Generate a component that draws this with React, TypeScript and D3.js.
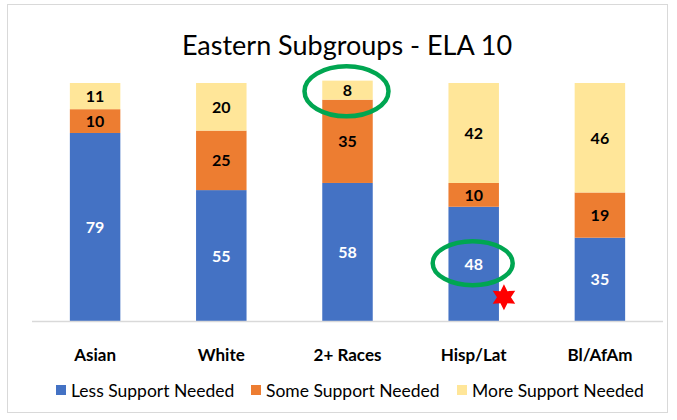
import { useEffect, useRef } from "react";
import * as d3 from "d3";

const categories = ["Asian", "White", "2+ Races", "Hisp/Lat", "Bl/AfAm"];
const seriesNames = ["Less Support Needed", "Some Support Needed", "More Support Needed"];
const lessSupport = [79, 55, 58, 48, 35];
const someSupport = [10, 25, 35, 10, 19];
const moreSupport = [11, 20, 8, 42, 46];
const colors = ["#4472C4", "#ED7D31", "#FFE699"];
const labelColors = ["#ffffff", "#000000", "#000000"];

const W = 677;
const H = 420;
const FONT = "Lato, 'Open Sans', sans-serif";

const App = () => {
  const ref = useRef<SVGSVGElement | null>(null);

  useEffect(() => {
    if (!ref.current) return;
    const svg = d3.select(ref.current);
    svg.selectAll("*").remove();

    const margin = { top: 83, right: 14, bottom: 99, left: 32 };

    // chart border
    svg
      .append("rect")
      .attr("x", 7.5)
      .attr("y", 4.5)
      .attr("width", 660)
      .attr("height", 408)
      .attr("fill", "#fff")
      .attr("stroke", "#d9d9d9");

    svg
      .append("text")
      .attr("x", 347)
      .attr("y", 55)
      .attr("text-anchor", "middle")
      .attr("font-family", FONT)
      .attr("font-size", 27)
      .attr("fill", "#000")
      .text("Eastern Subgroups - ELA 10");

    const x = d3
      .scaleBand<string>()
      .domain(categories)
      .range([margin.left, W - margin.right])
      .paddingInner(0.6)
      .paddingOuter(0.3);

    const y = d3
      .scaleLinear()
      .domain([0, 100])
      .range([H - margin.bottom, margin.top]);

    const rows = categories.map((c, i) => ({
      cat: c,
      less: lessSupport[i],
      some: someSupport[i],
      more: moreSupport[i],
    }));
    const stack = d3.stack<any>().keys(["less", "some", "more"]);
    const series = stack(rows);

    series.forEach((s, si) => {
      const g = svg.append("g");
      g.selectAll("rect")
        .data(s)
        .enter()
        .append("rect")
        .attr("x", (d) => x(d.data.cat)!)
        .attr("y", (d) => y(d[1]))
        .attr("width", x.bandwidth())
        .attr("height", (d) => y(d[0]) - y(d[1]))
        .attr("fill", colors[si]);
      g.selectAll("text")
        .data(s)
        .enter()
        .append("text")
        .attr("x", (d) => x(d.data.cat)! + x.bandwidth() / 2)
        .attr("y", (d) => (y(d[0]) + y(d[1])) / 2 + 6)
        .attr("text-anchor", "middle")
        .attr("font-family", FONT)
        .attr("font-weight", "bold")
        .attr("font-size", 16)
        .attr("fill", labelColors[si])
        .text((d) => d[1] - d[0]);
    });

    // axis line
    svg
      .append("line")
      .attr("x1", margin.left)
      .attr("x2", W - margin.right)
      .attr("y1", y(0) + 0.5)
      .attr("y2", y(0) + 0.5)
      .attr("stroke", "#d9d9d9")
      .attr("stroke-width", 1.5);

    svg
      .append("g")
      .selectAll("text")
      .data(categories)
      .enter()
      .append("text")
      .attr("x", (d) => x(d)! + x.bandwidth() / 2)
      .attr("y", y(0) + 40)
      .attr("text-anchor", "middle")
      .attr("font-family", FONT)
      .attr("font-weight", "bold")
      .attr("font-size", 17)
      .attr("fill", "#000")
      .text((d) => d);

    // legend
    const legendX = [56, 251, 457];
    const lg = svg.append("g");
    seriesNames.forEach((name, i) => {
      lg.append("rect")
        .attr("x", legendX[i])
        .attr("y", 385)
        .attr("width", 10)
        .attr("height", 10)
        .attr("fill", colors[i]);
      lg.append("text")
        .attr("x", legendX[i] + 15)
        .attr("y", 397)
        .attr("font-family", FONT)
        .attr("font-size", 17.5)
        .attr("fill", "#000")
        .text(name);
    });

    // annotations: green ellipses around "8" (2+ Races) and "48" (Hisp/Lat)
    const circled = [
      { cat: "2+ Races", mid: 96.5, rx: 42, ry: 25 },
      { cat: "Hisp/Lat", mid: 24.3, rx: 40, ry: 22 },
    ];
    circled.forEach((c) => {
      svg
        .append("ellipse")
        .attr("cx", x(c.cat)! + x.bandwidth() / 2 - 1)
        .attr("cy", y(c.mid))
        .attr("rx", c.rx)
        .attr("ry", c.ry)
        .attr("fill", "none")
        .attr("stroke", "#00A651")
        .attr("stroke-width", 4.5);
    });

    // red star next to Hisp/Lat bar
    const cx = x("Hisp/Lat")! + x.bandwidth() + 5;
    const cy = y(10);
    const pts: [number, number][] = d3.range(12).map((k) => {
      const a = (k * Math.PI) / 6 - Math.PI / 2;
      const r = k % 2 === 0 ? 13 : 7;
      return [cx + r * Math.cos(a), cy + r * Math.sin(a)];
    });
    svg
      .append("polygon")
      .attr("points", pts.map((p) => p.join(",")).join(" "))
      .attr("fill", "#FF0000");
  }, []);

  return (
    <svg
      ref={ref}
      width={W}
      height={H}
      style={{ position: "absolute", left: 0, top: 0 }}
    />
  );
};

export default App;
